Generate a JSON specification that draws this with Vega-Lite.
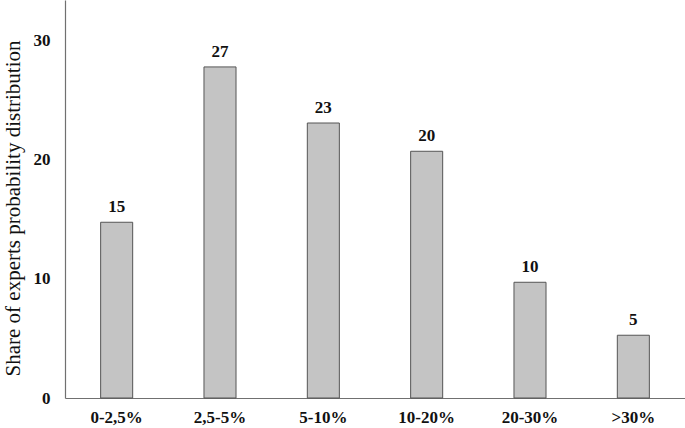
{
  "$schema": "https://vega.github.io/schema/vega-lite/v6.json",
  "width": 620,
  "height": 398,
  "autosize": {"type": "none"},
  "padding": {"left": 65, "top": 0, "right": 0, "bottom": 30},
  "background": "white",
  "config": {"view": {"stroke": null}},
  "data": {"values": [
    {"range": "0-2,5%", "share": 14.73, "label": "15"},
    {"range": "2,5-5%", "share": 27.75, "label": "27"},
    {"range": "5-10%", "share": 23.05, "label": "23"},
    {"range": "10-20%", "share": 20.68, "label": "20"},
    {"range": "20-30%", "share": 9.7, "label": "10"},
    {"range": ">30%", "share": 5.26, "label": "5"}
  ]},
  "encoding": {
    "x": {"field": "range", "type": "nominal", "sort": null,
      "scale": {"paddingInner": 0.69, "paddingOuter": 0.345},
      "axis": {"title": null, "labelAngle": 0, "ticks": false, "domainColor": "#707070", "domainWidth": 1.2,
        "labelFont": "Liberation Serif", "labelFontSize": 17, "labelFontWeight": "bold", "labelColor": "#111", "labelPadding": 11}},
    "y": {"field": "share", "type": "quantitative",
      "scale": {"domain": [0, 33.36], "nice": false},
      "axis": {"values": [0, 10, 20, 30], "grid": false, "ticks": false, "domainColor": "#707070", "domainWidth": 1.2,
        "labelFont": "Liberation Serif", "labelFontSize": 17, "labelFontWeight": "bold", "labelColor": "#111", "labelPadding": 15,
        "title": "Share of experts probability distribution", "titleFont": "Liberation Serif", "titleFontSize": 21, "titleFontWeight": "normal", "titleColor": "#111", "titlePadding": 10, "titleY": 208}}
  },
  "layer": [
    {"mark": {"type": "bar", "fill": "#c4c4c4", "stroke": "#555555", "strokeWidth": 1}},
    {"mark": {"type": "text", "baseline": "alphabetic", "dy": -10, "font": "Liberation Serif", "fontSize": 17, "fontWeight": "bold", "color": "#111"},
      "encoding": {"text": {"field": "label"}}}
  ]
}
